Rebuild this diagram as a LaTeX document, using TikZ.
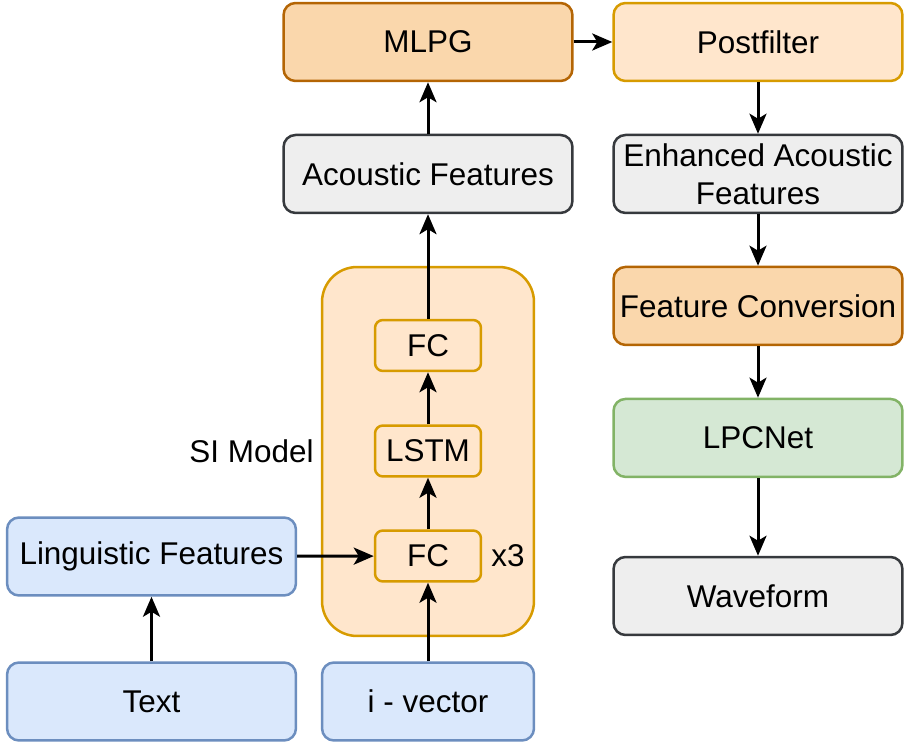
\documentclass[tikz,border=0pt]{standalone}
\usepackage{fontspec}
\setmainfont{Liberation Sans}
\usetikzlibrary{arrows.meta}
\usetikzlibrary{positioning}

\definecolor{blueFill}{HTML}{DAE8FC}
\definecolor{blueLine}{HTML}{6C8EBF}
\definecolor{peachFill}{HTML}{FAD7AC}
\definecolor{peachLine}{HTML}{B46504}
\definecolor{creamFill}{HTML}{FFE6CC}
\definecolor{creamLine}{HTML}{D79B00}
\definecolor{greyFill}{HTML}{EEEEEE}
\definecolor{greyLine}{HTML}{36393D}
\definecolor{greenFill}{HTML}{D5E8D4}
\definecolor{greenLine}{HTML}{82B366}

\begin{document}
\begin{tikzpicture}[x=0.02cm,y=-0.02cm,->,>={Stealth[length=0.4cm,width=0.34cm,inset=0.1cm]},line width=0.06cm,node distance=2.64cm]
	\tikzstyle{every node}=[font=\fontsize{17.9}{21.5}\selectfont, text=black, line width=0.05cm]
	\tikzstyle{block}=[draw, rounded corners=0.24cm, minimum width=5.78cm, minimum height=1.56cm, inner sep=0pt, align=center]
	\tikzstyle{layer}=[draw=creamLine, fill=creamFill, rounded corners=0.16cm, minimum width=2.12cm, minimum height=1.02cm, inner sep=0pt]
	\tikzstyle{blue}=[block, draw=blueLine, fill=blueFill]
	\tikzstyle{peach}=[block, draw=peachLine, fill=peachFill]
	\tikzstyle{cream}=[block, draw=creamLine, fill=creamFill]
	\tikzstyle{grey}=[block, draw=greyLine, fill=greyFill]
	\tikzstyle{green}=[block, draw=greenLine, fill=greenFill]

	\useasboundingbox (0,0) rectangle (907,746);

	% SI model container
	\node[draw=creamLine, fill=creamFill, rounded corners=0.7cm, minimum width=4.24cm, minimum height=7.38cm] (si) at (428,451.5) {};
	\node[inner sep=0pt, anchor=east] (silabel) [left=0.12cm of si.west] {SI Model};

	% left column
	\node[peach] (mlpg) at (428,42) {MLPG};
	\node[grey] (ac) [below of=mlpg] {Acoustic Features};
	\node[layer] (fc2) at (428,345.5) {FC};
	\node[layer] (lstm) at (428,451) {LSTM};
	\node[layer] (fc1) at (428,556) {FC};
	\node[inner sep=0pt, anchor=west] (x3) [right=0.16cm of fc1.east] {x3};
	\node[blue] (ling) at (151.5,556.5) {Linguistic Features};
	\node[blue] (text) at (151.5,701.5) {Text};
	\node[blue, minimum width=4.24cm] (ivec) at (428,701.5) {i - vector};

	% right column
	\node[cream] (post) at (758,42) {Postfilter};
	\node[grey] (enh) [below of=post] {Enhanced Acoustic\\Features};
	\node[peach] (conv) [below of=enh] {Feature Conversion};
	\node[green] (lpc) [below of=conv] {LPCNet};
	\node[grey] (wave) at (758,596) {Waveform};

	% connectors
	\draw (text) -- (ling);
	\draw (ling) -- (fc1);
	\draw (ivec) -- (fc1);
	\draw (fc1) -- (lstm);
	\draw (lstm) -- (fc2);
	\draw (fc2) -- (ac);
	\draw (ac) -- (mlpg);
	\draw (mlpg) -- (post);
	\draw (post) -- (enh);
	\draw (enh) -- (conv);
	\draw (conv) -- (lpc);
	\draw (lpc) -- (wave);
\end{tikzpicture}
\end{document}
